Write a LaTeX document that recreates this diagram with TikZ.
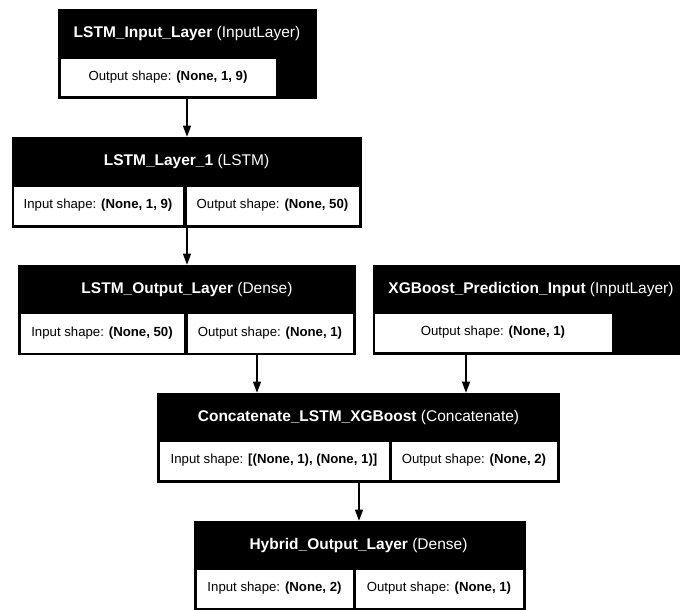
\documentclass[tikz,border=0pt]{standalone}
\usepackage{fontspec}
\setmainfont{Liberation Sans}
\usetikzlibrary{arrows.meta}
\tikzset{
  layerbox/.style={fill=black, draw=black, line width=0.6pt, inner sep=0pt, rectangle},
  titletext/.style={text=white, inner sep=0pt, font=\fontsize{15.5}{18}\selectfont},
  cellbox/.style={fill=white, draw=black, line width=0.8pt, inner sep=0pt, rectangle,
    font=\fontsize{13.2}{16}\selectfont, text=black},
  arr/.style={draw=black, line width=1.3pt, -{Triangle[length=11pt,width=8pt]}}
}
\begin{document}
\begin{tikzpicture}[x=1pt,y=-1pt]
\fill[white] (0,0) rectangle (680,610);
\useasboundingbox (0,0) rectangle (680,610);

% LSTM_Input_Layer
\node[layerbox, minimum width=258pt, minimum height=89pt] (b1) at (187,53.5) {};
\node[titletext] (b1t) at (187,33.5) {\textbf{LSTM\_Input\_Layer} (InputLayer)};
\node[cellbox, minimum width=216pt, minimum height=38pt] (b1o) at (168,77) {Output shape: \textbf{(None, 1, 9)}};

% LSTM_Layer_1
\node[layerbox, minimum width=349pt, minimum height=90pt] (b2) at (186.5,182) {};
\node[titletext] (b2t) at (186.5,161.5) {\textbf{LSTM\_Layer\_1} (LSTM)};
\node[cellbox, minimum width=170pt, minimum height=39pt] (b2i) at (98,205.5) {Input shape: \textbf{(None, 1, 9)}};
\node[cellbox, minimum width=173pt, minimum height=39pt] (b2o) at (272.5,205.5) {Output shape: \textbf{(None, 50)}};

% LSTM_Output_Layer
\node[layerbox, minimum width=337pt, minimum height=89pt] (b3) at (186.5,309.5) {};
\node[titletext] (b3t) at (187,289) {\textbf{LSTM\_Output\_Layer} (Dense)};
\node[cellbox, minimum width=164pt, minimum height=40pt] (b3i) at (102,333) {Input shape: \textbf{(None, 50)}};
\node[cellbox, minimum width=166pt, minimum height=40pt] (b3o) at (270,333) {Output shape: \textbf{(None, 1)}};

% XGBoost_Prediction_Input
\node[layerbox, minimum width=307pt, minimum height=89pt] (xg) at (526.5,309.5) {};
\node[titletext] (xgt) at (531,289) {\textbf{XGBoost\_Prediction\_Input} (InputLayer)};
\node[cellbox, minimum width=238pt, minimum height=39pt] (xgo) at (493,332.5) {Output shape: \textbf{(None, 1)}};

% Concatenate_LSTM_XGBoost
\node[layerbox, minimum width=402pt, minimum height=89pt] (cc) at (358,437.5) {};
\node[titletext] (cct) at (358.5,417) {\textbf{Concatenate\_LSTM\_XGBoost} (Concatenate)};
\node[cellbox, minimum width=230pt, minimum height=39pt] (cci) at (274,460.5) {Input shape: \textbf{[(None, 1), (None, 1)]}};
\node[cellbox, minimum width=166pt, minimum height=39pt] (cco) at (474,460.5) {Output shape: \textbf{(None, 2)}};

% Hybrid_Output_Layer
\node[layerbox, minimum width=331pt, minimum height=89pt] (hy) at (359.5,565.5) {};
\node[titletext] (hyt) at (358.5,545) {\textbf{Hybrid\_Output\_Layer} (Dense)};
\node[cellbox, minimum width=157pt, minimum height=39pt] (hyi) at (274.5,588.5) {Input shape: \textbf{(None, 2)}};
\node[cellbox, minimum width=168pt, minimum height=39pt] (hyo) at (439,588.5) {Output shape: \textbf{(None, 1)}};

% connectors
\coordinate (xa) at (187,0);
\coordinate (xb) at (257,0);
\coordinate (xc) at (466,0);
\coordinate (xd) at (359,0);
\draw[arr] (b1.south -| xa) -- (b2.north -| xa);
\draw[arr] (b2.south -| xa) -- (b3.north -| xa);
\draw[arr] (b3.south -| xb) -- (cc.north -| xb);
\draw[arr] (xg.south -| xc) -- (cc.north -| xc);
\draw[arr] (cc.south -| xd) -- (hy.north -| xd);
\end{tikzpicture}
\end{document}
